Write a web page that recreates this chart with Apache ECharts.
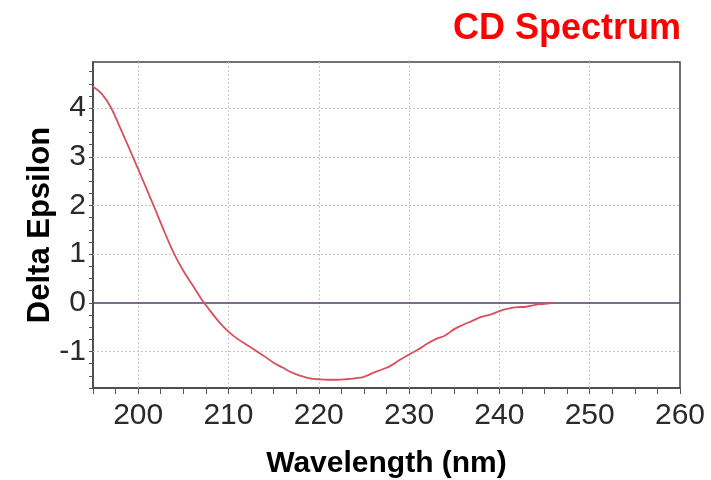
<!DOCTYPE html>
<html>
<head>
<meta charset="utf-8">
<script src="https://cdn.jsdelivr.net/npm/echarts@6/dist/echarts.min.js"></script>
<style>html,body{margin:0;padding:0;background:#fff}#c{width:711px;height:480px}</style>
</head>
<body>
<div id="c"></div>
<script>
var wavelengths = [195,196,197,198,199,200,201,202,203,204,205,206,207,208,209,210,211,212,213,214,215,216,217,218,219,220,221,222,223,224,225,226,227,228,229,230,231,232,233,234,235,236,237,238,239,240,241,242,243,244,245,246];
var deltaEpsilon = [4.44,4.29,4.01,3.60,3.18,2.75,2.31,1.87,1.42,1.00,0.66,0.37,0.08,-0.17,-0.40,-0.59,-0.74,-0.86,-0.98,-1.10,-1.23,-1.33,-1.43,-1.50,-1.55,-1.57,-1.58,-1.58,-1.57,-1.55,-1.52,-1.44,-1.37,-1.29,-1.17,-1.06,-0.96,-0.84,-0.74,-0.67,-0.54,-0.45,-0.37,-0.29,-0.24,-0.17,-0.12,-0.09,-0.08,-0.04,-0.02,0];
var xGridValues = [200,210,220,230,240,250];
var yGridValues = [-1,1,2,3,4];
var zeroLine = [0];
var xLabels = [200,210,220,230,240,250,260];

var chart = echarts.init(document.getElementById('c'), null, {renderer:'canvas'});
var gridMarks = [];
xGridValues.forEach(function(v){ gridMarks.push({xAxis: v}); });
yGridValues.forEach(function(v){ gridMarks.push({yAxis: v}); });

chart.setOption({
  animation: false,
  title: {
    text: 'CD Spectrum', right: 25, top: 6,
    textStyle: {color: '#ff0000', fontSize: 36, fontWeight: 'bold', fontFamily: 'Liberation Sans, Arial, sans-serif'}
  },
  grid: {left: 93, right: 31, top: 62, bottom: 92, outerBoundsMode: 'none', containLabel: false, show: true, borderColor: '#444', borderWidth: 1.5, backgroundColor: 'transparent'},
  xAxis: {
    type: 'value', min: 195, max: 260, interval: 2.5,
    name: 'Wavelength (nm)', nameLocation: 'middle', nameGap: 61, nameMoveOverlap: false,
    nameTextStyle: {color: '#000', fontSize: 30, fontWeight: 'bold', fontFamily: 'Liberation Sans, Arial, sans-serif'},
    axisLine: {show: true, onZero: false, lineStyle: {color: '#444', width: 1.5}},
    axisTick: {show: true, length: 6, inside: false, lineStyle: {color: '#555'}},
    axisLabel: {
      margin: 13, color: '#2a2a2a', fontSize: 30, fontFamily: 'Liberation Sans, Arial, sans-serif',
      showMinLabel: true, showMaxLabel: true,
      formatter: function(v){ var r = Math.round(v); return (Math.abs(v - r) < 1e-6 && xLabels.indexOf(r) >= 0) ? String(r) : ''; }
    },
    splitLine: {show: false}
  },
  yAxis: {
    type: 'value', min: -1.75, max: 4.95, interval: 0.25,
    name: 'Delta Epsilon', nameLocation: 'middle', nameGap: 37, nameRotate: 90, nameMoveOverlap: false,
    nameTextStyle: {color: '#000', fontSize: 31, fontWeight: 'bold', fontFamily: 'Liberation Sans, Arial, sans-serif'},
    axisLine: {show: true, onZero: false, lineStyle: {color: '#444', width: 1.5}},
    axisTick: {show: true, length: 4, lineStyle: {color: '#555'}},
    axisLabel: {
      margin: 7, color: '#2a2a2a', fontSize: 30, fontFamily: 'Liberation Sans, Arial, sans-serif',
      showMaxLabel: false,
      formatter: function(v){ var r = Math.round(v); return (Math.abs(v - r) < 1e-6) ? String(r) : ''; }
    },
    splitLine: {show: false}
  },
  series: [
    {
      type: 'line', data: [], silent: true,
      markLine: {
        silent: true, symbol: 'none', label: {show: false},
        lineStyle: {color: '#c8c8c8', type: [2, 2], width: 1},
        emphasis: {disabled: true},
        data: gridMarks
      }
    },
    {
      type: 'line', data: [], silent: true,
      markLine: {
        silent: true, symbol: 'none', label: {show: false},
        lineStyle: {color: '#553a66', type: 'solid', width: 1.5},
        emphasis: {disabled: true},
        data: zeroLine.map(function(v){ return {yAxis: v}; })
      }
    },
    {
      type: 'line', name: 'CD',
      data: wavelengths.map(function(w, i){ return [w, deltaEpsilon[i]]; }),
      showSymbol: false, symbol: 'none', smooth: 0.4,
      lineStyle: {color: '#d8505e', width: 1.8},
      z: 5
    }
  ]
});
</script>
</body>
</html>
